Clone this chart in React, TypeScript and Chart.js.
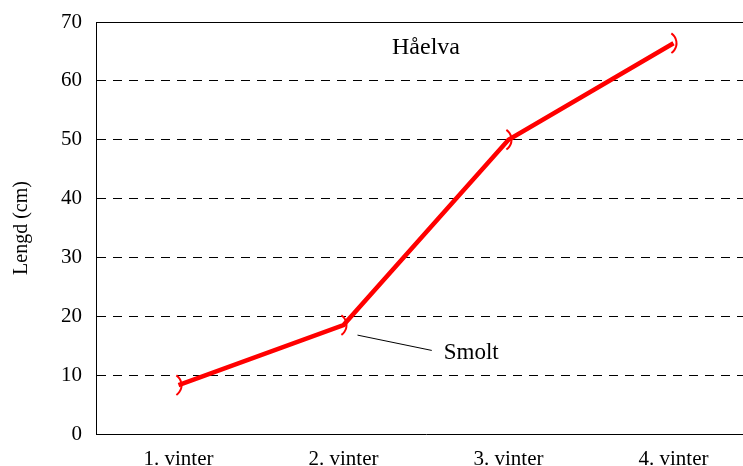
import { useEffect, useRef } from "react";
import { Chart, registerables } from "chart.js";

Chart.register(...registerables);

const categories = ["1. vinter", "2. vinter", "3. vinter", "4. vinter"];
const lengthCm = [8.3, 18.5, 50.0, 66.4];
const yMin = 0;
const yMax = 70;
const yStep = 10;
const chartTitle = "Håelva";
const yAxisTitle = "Lengd (cm)";
const smoltLabel = "Smolt";
const smoltIndex = 1;

const FONT = "'Liberation Serif', 'Times New Roman', serif";

export default function App() {
  const ref = useRef<HTMLCanvasElement>(null);

  useEffect(() => {
    const canvas = ref.current;
    if (!canvas) return;

    const overlay = {
      id: "overlay",
      afterDatasetsDraw(chart: any) {
        const { ctx, chartArea, scales } = chart;
        const xs = scales.x;
        const ys = scales.y;
        ctx.save();
        // top frame line
        ctx.strokeStyle = "#000";
        ctx.lineWidth = 1;
        ctx.setLineDash([]);
        ctx.beginPath();
        ctx.moveTo(chartArea.left, Math.round(chartArea.top) + 0.5);
        ctx.lineTo(chartArea.right, Math.round(chartArea.top) + 0.5);
        ctx.stroke();

        // markers: ")" shaped arcs
        const meta = chart.getDatasetMeta(0);
        ctx.strokeStyle = "#ff0000";
        ctx.lineWidth = 2;
        meta.data.forEach((pt: any) => {
          const r = 12;
          const a = (55 * Math.PI) / 180;
          ctx.beginPath();
          ctx.arc(pt.x - 9, pt.y, r, -a, a);
          ctx.stroke();
        });

        // title inside plot
        ctx.fillStyle = "#000";
        ctx.font = `24px ${FONT}`;
        ctx.textAlign = "center";
        ctx.textBaseline = "middle";
        ctx.fillText(chartTitle, xs.getPixelForValue(1.5), ys.getPixelForValue(65.6));

        // Smolt annotation
        const px = xs.getPixelForValue(smoltIndex);
        const py = ys.getPixelForValue(lengthCm[smoltIndex]);
        const lx = xs.getPixelForValue(smoltIndex + 0.535);
        const ly = ys.getPixelForValue(14.2);
        ctx.strokeStyle = "#000";
        ctx.lineWidth = 1;
        ctx.beginPath();
        ctx.moveTo(px + 14, py + 10);
        ctx.lineTo(lx, ly);
        ctx.stroke();
        ctx.font = `23px ${FONT}`;
        ctx.textAlign = "left";
        ctx.fillText(smoltLabel, lx + 12, ys.getPixelForValue(13.8));
        ctx.restore();
      },
    };

    const chart = new Chart(canvas, {
      type: "line",
      data: {
        labels: categories,
        datasets: [
          {
            data: lengthCm,
            borderColor: "#ff0000",
            borderWidth: 4.5,
            pointRadius: 0,
            pointHoverRadius: 0,
            tension: 0,
            fill: false,
          },
        ],
      },
      options: {
        responsive: false,
        animation: false,
        events: [],
        layout: { padding: { top: 22, right: 4, left: 0, bottom: 0 } },
        plugins: {
          legend: { display: false },
          tooltip: { enabled: false },
          title: { display: false },
        },
        scales: {
          x: {
            offset: true,
            grid: { display: false, drawTicks: false },
            border: { display: true, color: "#000", width: 1 },
            ticks: {
              color: "#000",
              font: { family: FONT, size: 21 },
              padding: 13,
              maxRotation: 0,
              autoSkip: false,
            },
            afterFit: (s: any) => {
              s.height = 32;
              s.paddingLeft = 0;
              s.paddingRight = 0;
            },
          },
          y: {
            min: yMin,
            max: yMax,
            grid: {
              drawTicks: false,
              lineWidth: 1,
              color: (c: any) =>
                c.tick && (c.tick.value === yMin || c.tick.value === yMax)
                  ? "rgba(0,0,0,0)"
                  : "#000",
            },
            border: { display: true, color: "#000", width: 1, dash: [9, 7] },
            ticks: {
              stepSize: yStep,
              color: "#000",
              font: { family: FONT, size: 21 },
              padding: 14,
            },
            title: {
              display: true,
              text: yAxisTitle,
              color: "#000",
              font: { family: FONT, size: 20 },
              padding: { top: 10, bottom: 0 },
            },
            afterFit: (s: any) => {
              s.width = 96;
              s.paddingTop = 0;
              s.paddingBottom = 0;
            },
          },
        },
      },
      plugins: [overlay],
    });

    return () => chart.destroy();
  }, []);

  return (
    <div
      style={{
        position: "fixed",
        left: 0,
        top: 0,
        width: 760,
        height: 466,
        background: "#fff",
      }}
    >
      <canvas ref={ref} width={760} height={466} style={{ width: 760, height: 466, display: "block" }} />
    </div>
  );
}
